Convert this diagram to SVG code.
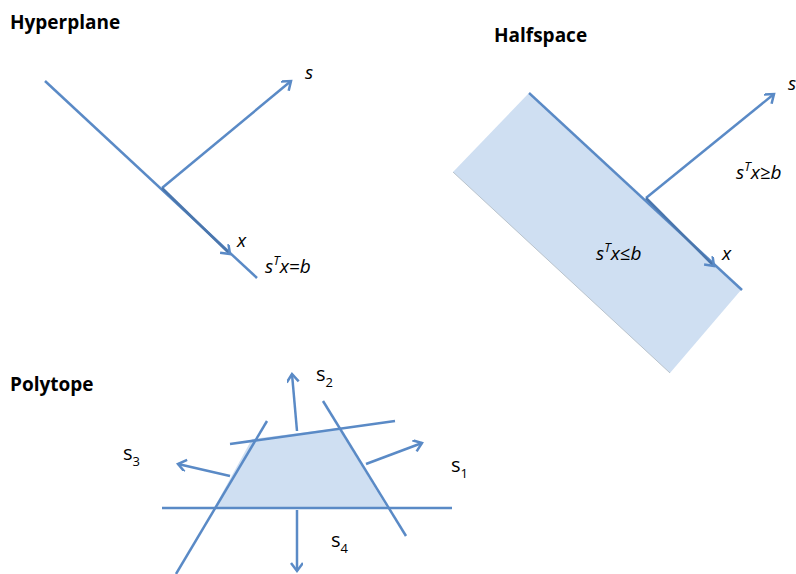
<svg xmlns="http://www.w3.org/2000/svg" width="796" height="574" viewBox="0 0 796 574">
<style>
.ln{stroke:#5a8ac6;stroke-width:2.5;fill:none;stroke-linecap:butt}
.ar{stroke:#5a8ac6;stroke-width:2.5;fill:none;marker-end:url(#ah)}
.dk{stroke:#4a76ad}
.fl{fill:#cfdff2}
.tt{font-family:"Open Sans","Liberation Sans",sans-serif;font-weight:bold;font-size:19px;fill:#000}
.lb{font-family:"Open Sans","Liberation Sans",sans-serif;font-style:italic;font-size:19px;fill:#000}
.lp{font-family:"Open Sans","Liberation Sans",sans-serif;font-size:20px;fill:#000}
.sb{font-size:13px}
</style>
<defs>
<marker id="ah" markerWidth="14" markerHeight="14" refX="10" refY="6" orient="auto" markerUnits="userSpaceOnUse">
<path d="M2,0 L10,6 L2,12" fill="none" stroke="#5a8ac6" stroke-width="2.5" stroke-linejoin="miter"/>
</marker>
</defs>
<g id="hyperplane">
<text class="tt" x="10" y="29">Hyperplane</text>
<line class="ln" x1="45" y1="81" x2="257" y2="278"/>
<g class="connectors">
<line class="ar" x1="162" y1="188" x2="291" y2="81"/>
<line class="ar dk" x1="162" y1="188" x2="230" y2="254"/>
</g>
<text class="lb" x="305" y="79">s</text>
<text class="lb" x="237" y="247">x</text>
<text class="lb" x="265" y="273">s<tspan class="sb" dy="-8">T</tspan><tspan dy="8">x=b</tspan></text>
</g>
<g id="halfspace">
<text class="tt" x="494" y="42">Halfspace</text>
<polygon class="fl" points="528,94 453,172 670,373 741,290"/>
<line x1="453" y1="172" x2="670" y2="373" stroke="#b9c3cc" stroke-width="1"/>
<line class="ln" x1="529" y1="93" x2="742" y2="290"/>
<g class="connectors">
<line class="ar" x1="646" y1="198" x2="774" y2="94"/>
<line class="ar dk" x1="646" y1="198" x2="714" y2="266"/>
</g>
<text class="lb" x="788" y="90">s</text>
<text class="lb" x="736" y="179">s<tspan class="sb" dy="-8">T</tspan><tspan dy="8">x≥b</tspan></text>
<text class="lb" x="596" y="260">s<tspan class="sb" dy="-8">T</tspan><tspan dy="8">x≤b</tspan></text>
<text class="lb" x="722" y="260">x</text>
</g>
<g id="polytope">
<text class="tt" x="10" y="391">Polytope</text>
<polygon class="fl" points="252,439 339,428 387,508 214,508"/>
<line class="ln" x1="162" y1="508" x2="452" y2="508"/>
<line class="ln" x1="230" y1="444" x2="395" y2="421"/>
<line class="ln" x1="267" y1="421" x2="176" y2="574"/>
<line class="ln" x1="323" y1="401" x2="406" y2="536"/>
<g class="connectors">
<line class="ar" x1="297" y1="431" x2="292" y2="374"/>
<line class="ar" x1="366" y1="464" x2="422" y2="443"/>
<line class="ar" x1="230" y1="476" x2="178" y2="464"/>
<line class="ar" x1="297" y1="510" x2="297" y2="571"/>
</g>
<text class="lp" x="316" y="381">s<tspan class="sb" dy="6">2</tspan></text>
<text class="lp" x="123" y="460">s<tspan class="sb" dy="6">3</tspan></text>
<text class="lp" x="451" y="472">s<tspan class="sb" dy="6">1</tspan></text>
<text class="lp" x="331" y="547">s<tspan class="sb" dy="6">4</tspan></text>
</g>
</svg>
